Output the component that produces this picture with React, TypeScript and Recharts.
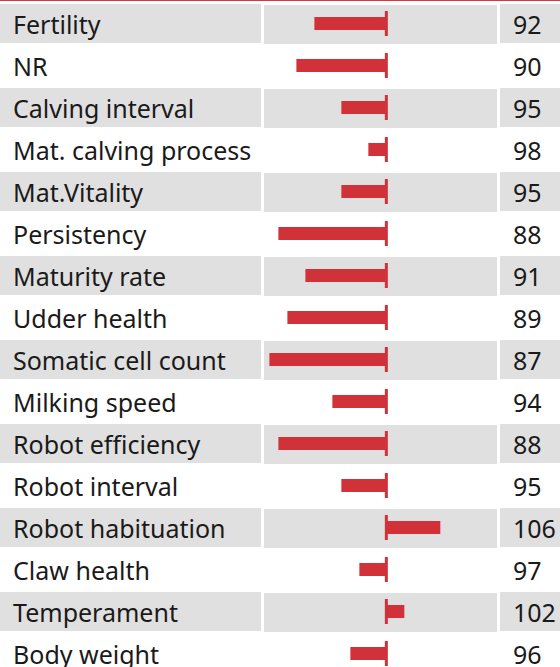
import { BarChart, Bar, XAxis, YAxis } from 'recharts'

const traits = [
  'Fertility', 'NR', 'Calving interval', 'Mat. calving process', 'Mat.Vitality',
  'Persistency', 'Maturity rate', 'Udder health', 'Somatic cell count', 'Milking speed',
  'Robot efficiency', 'Robot interval', 'Robot habituation', 'Claw health',
  'Temperament', 'Body weight',
]
const scores = [92, 90, 95, 98, 95, 88, 91, 89, 87, 94, 88, 95, 106, 97, 102, 96]
const BASE = 100

const data = traits.map((name, i) => ({ name, value: scores[i] }))

const RED = '#d13239'
const GREY = '#e0e0e0'
const FONT = '"Noto Sans", sans-serif'
const BAR_SIZE = 13

function RowTick(props: any) {
  const { y, payload } = props
  const i = payload.index
  const striped = i % 2 === 0
  return (
    <g>
      {striped && <rect x={0} y={y - 19} width={261} height={39} fill={GREY} />}
      {striped && <rect x={500} y={y - 19} width={60} height={39} fill={GREY} />}
      <text x={13} y={y + 1} dominantBaseline="central" fontSize={25} fontFamily={FONT} fill="#1a1a1a">
        {payload.value}
      </text>
      <text x={513} y={y + 1} dominantBaseline="central" fontSize={25} fontFamily={FONT} fill="#1a1a1a">
        {scores[i]}
      </text>
    </g>
  )
}

function RowBackground(p: any) {
  if (p.index % 2 !== 0) return <rect key={`bg-${p.index}`} width={0} height={0} fill="none" />
  const cy = p.y + BAR_SIZE / 2
  return <rect key={`bg-${p.index}`} x={p.x} y={cy - 18.5} width={p.width} height={39} fill={GREY} />
}

function BarShape(p: any) {
  const { x, y, width, height, payload } = p
  const left = Math.min(x, x + width)
  const right = Math.max(x, x + width)
  const zero = payload.value >= BASE ? left : right
  const cy = y + height / 2
  return (
    <g>
      <rect x={left} y={y} width={right - left} height={height} fill={RED} />
      <rect x={zero - 1.5} y={cy - 12.5} width={3} height={25} fill={RED} />
    </g>
  )
}

export default function App() {
  return (
    <div style={{ position: 'absolute', left: 0, top: 0, width: 560, height: 667, overflow: 'hidden', background: '#fff' }}>
      <div style={{ position: 'absolute', left: 0, top: 0, width: 560, height: 1, background: '#d9363e' }} />
      <BarChart
        width={560}
        height={674}
        data={data}
        layout="vertical"
        margin={{ top: 2, right: 63, left: 0, bottom: 0 }}
        barCategoryGap={0}
      >
        <XAxis type="number" domain={[86.4, 112.3]} hide />
        <YAxis
          type="category"
          dataKey="name"
          width={264}
          axisLine={false}
          tickLine={false}
          interval={0}
          tick={<RowTick />}
        />
        <Bar
          dataKey={(d: any) => [BASE, d.value]}
          barSize={BAR_SIZE}
          background={RowBackground}
          shape={BarShape}
          isAnimationActive={false}
        />
      </BarChart>
    </div>
  )
}
